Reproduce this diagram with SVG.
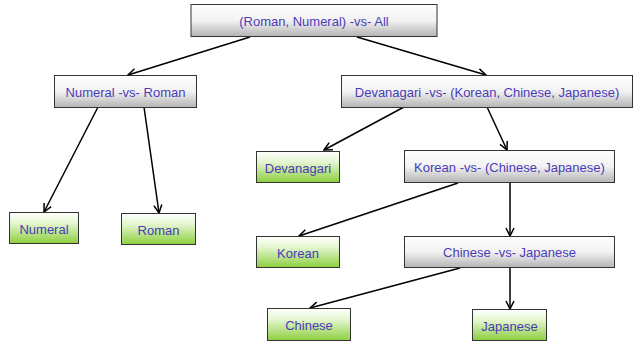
<svg xmlns="http://www.w3.org/2000/svg" width="635" height="344" viewBox="0 0 635 344">
<defs>
<linearGradient id="gGray" x1="0" y1="0" x2="0" y2="1">
<stop offset="0" stop-color="#ffffff"/>
<stop offset="0.5" stop-color="#f2f2f2"/>
<stop offset="1" stop-color="#b4b4b4"/>
</linearGradient>
<linearGradient id="gGreen" x1="0" y1="0" x2="0" y2="1">
<stop offset="0" stop-color="#ffffff"/>
<stop offset="0.35" stop-color="#e4f5cf"/>
<stop offset="1" stop-color="#8ccf3e"/>
</linearGradient>
<marker id="arr" markerWidth="10" markerHeight="10" refX="9" refY="5" orient="auto" markerUnits="userSpaceOnUse">
<path d="M1,1 L9,5 L1,9" fill="none" stroke="#000" stroke-width="1.5"/>
</marker>
</defs>
<style>
.g rect{fill:url(#gGray);stroke:#333;stroke-width:1}
.l rect{fill:url(#gGreen);stroke:#333;stroke-width:1}
text{font-family:"Liberation Sans",Arial,sans-serif;font-size:13px;fill:#4a3cb8;text-anchor:middle;dominant-baseline:central}
#edges line{stroke:#000;stroke-width:1.5;marker-end:url(#arr)}
</style>
<g id="edges">
<line x1="250" y1="37" x2="128" y2="75"/>
<line x1="357" y1="37" x2="486" y2="75"/>
<line x1="98" y1="107" x2="44" y2="212"/>
<line x1="144" y1="107" x2="159" y2="213"/>
<line x1="404" y1="107" x2="324" y2="150"/>
<line x1="487" y1="107" x2="507" y2="150"/>
<line x1="458" y1="183" x2="299" y2="236"/>
<line x1="510" y1="183" x2="510" y2="236"/>
<line x1="460" y1="268" x2="310" y2="308"/>
<line x1="510" y1="268" x2="510" y2="309"/>
</g>
<g id="root" class="g"><rect x="191" y="4.5" width="246" height="32"/><text x="314" y="21">(Roman, Numeral) -vs- All</text></g>
<g id="numVsRoman" class="g"><rect x="54.5" y="75.5" width="142" height="32"/><text x="125.5" y="92">Numeral -vs- Roman</text></g>
<g id="devVs" class="g"><rect x="341.5" y="75.5" width="291" height="32"/><text x="487" y="92">Devanagari -vs- (Korean, Chinese, Japanese)</text></g>
<g id="numeral" class="l"><rect x="9.5" y="212.5" width="69" height="31"/><text x="44" y="229">Numeral</text></g>
<g id="roman" class="l"><rect x="121.5" y="213.5" width="74" height="31"/><text x="158.5" y="230">Roman</text></g>
<g id="devanagari" class="l"><rect x="256.5" y="151.5" width="83" height="31"/><text x="298" y="168">Devanagari</text></g>
<g id="korVs" class="g"><rect x="404.5" y="150.5" width="210" height="32"/><text x="509.5" y="167">Korean -vs- (Chinese, Japanese)</text></g>
<g id="korean" class="l"><rect x="256.5" y="236.5" width="83" height="31"/><text x="298" y="253">Korean</text></g>
<g id="chVsJp" class="g"><rect x="404.5" y="236.5" width="210" height="31"/><text x="509.5" y="252.5">Chinese -vs- Japanese</text></g>
<g id="chinese" class="l"><rect x="267.5" y="308.5" width="83" height="32"/><text x="309" y="325">Chinese</text></g>
<g id="japanese" class="l"><rect x="472.5" y="309.5" width="74" height="31"/><text x="509.5" y="326">Japanese</text></g>
</svg>
